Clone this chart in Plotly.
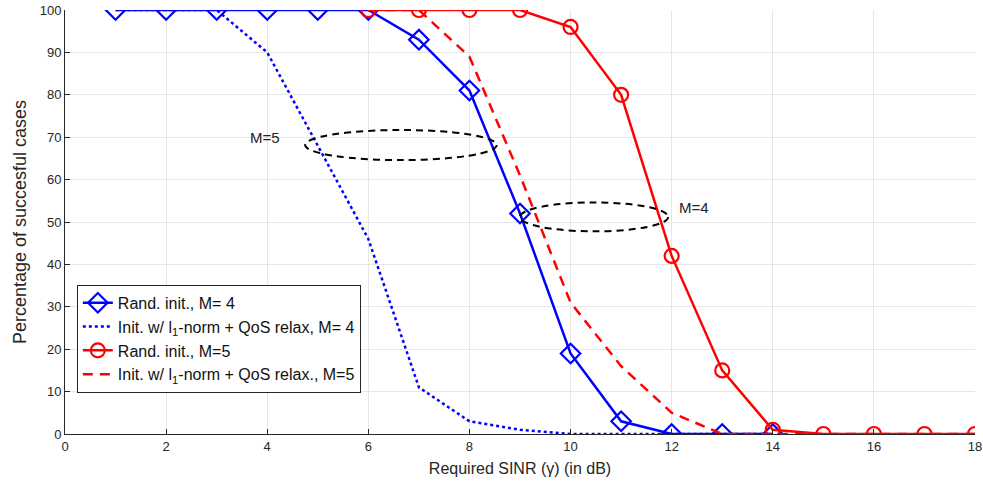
import plotly.graph_objects as go

# Data
x_rand4 = [1, 2, 3, 4, 5, 6, 7, 8, 9, 10, 11, 12, 13, 14]
y_rand4 = [100, 100, 100, 100, 100, 100, 93, 81, 52, 19, 3, 0, 0, 0]

x_init4 = [1, 2, 3, 4, 5, 6, 7, 8, 9, 10, 11, 12, 13, 14]
y_init4 = [100, 100, 100, 90, 68, 46, 11, 3, 1, 0, 0, 0, 0, 0]

x_rand5 = [6, 7, 8, 9, 10, 11, 12, 13, 14, 15, 16, 17, 18]
y_rand5 = [100, 100, 100, 100, 96, 80, 42, 15, 1, 0, 0, 0, 0]

x_init5 = [6, 7, 8, 9, 10, 11, 12, 13, 14, 15, 16, 17, 18]
y_init5 = [100, 100, 89, 61, 31, 16, 5, 0, 0, 0, 0, 0, 0]

x_ticks = [0, 2, 4, 6, 8, 10, 12, 14, 16, 18]
y_ticks = [0, 10, 20, 30, 40, 50, 60, 70, 80, 90, 100]

# ellipse annotations (x0, x1, y0, y1) and labels
ellipse_m5 = [4.75, 8.54, 64.6, 71.7]
ellipse_m4 = [9.0, 11.93, 47.8, 54.6]
label_m5 = (4.3, 70.0, "M=5")
label_m4 = (12.1, 53.5, "M=4")

FONT = "Liberation Sans, Arial, Helvetica, sans-serif"

fig = go.Figure()
fig.add_trace(go.Scatter(
    x=x_rand4, y=y_rand4, mode="lines+markers", name="Rand. init., M= 4",
    line=dict(color="#0000ff", width=2.5),
    marker=dict(symbol="diamond-open", size=15, color="#0000ff", line=dict(width=2.2)),
))
fig.add_trace(go.Scatter(
    x=x_init4, y=y_init4, mode="lines", name="Init. w/ l<sub>1</sub>-norm + QoS relax, M= 4",
    line=dict(color="#0000ff", width=2.5, dash="dot"),
))
fig.add_trace(go.Scatter(
    x=x_rand5, y=y_rand5, mode="lines+markers", name="Rand. init., M=5",
    line=dict(color="#ff0000", width=2.5),
    marker=dict(symbol="circle-open", size=14, color="#ff0000", line=dict(width=2.2)),
))
fig.add_trace(go.Scatter(
    x=x_init5, y=y_init5, mode="lines", name="Init. w/ l<sub>1</sub>-norm + QoS relax., M=5",
    line=dict(color="#ff0000", width=2.5, dash="10px,7px"),
))

for e in (ellipse_m5, ellipse_m4):
    fig.add_shape(type="circle", xref="x", yref="y", x0=e[0], x1=e[1], y0=e[2], y1=e[3],
                  line=dict(color="black", width=2, dash="7px,5px"))

fig.add_annotation(x=label_m5[0], y=label_m5[1], text=label_m5[2], showarrow=False,
                   xanchor="right", yanchor="middle", font=dict(size=15, color="#222"))
fig.add_annotation(x=label_m4[0], y=label_m4[1], text=label_m4[2], showarrow=False,
                   xanchor="left", yanchor="middle", font=dict(size=15, color="#222"))

fig.update_layout(
    width=983, height=486,
    margin=dict(l=65, r=8, t=10, b=52),
    paper_bgcolor="white", plot_bgcolor="white",
    font=dict(family=FONT, color="#262626"),
    showlegend=True,
    legend=dict(x=0.013, y=0.097, xanchor="left", yanchor="bottom",
                bgcolor="white", bordercolor="#262626", borderwidth=1,
                font=dict(size=16, color="#111"), tracegroupgap=0, itemwidth=30),
    xaxis=dict(range=[0, 18], tickvals=x_ticks, ticks="inside", ticklen=5,
               tickcolor="#262626", showline=True, linecolor="#262626", linewidth=1,
               showgrid=True, gridcolor="#e6e6e6", gridwidth=1, zeroline=False,
               automargin=False,
               tickfont=dict(size=13, color="#262626"),
               title=dict(text="Required SINR (\u03b3) (in dB)", font=dict(size=16, color="#262626"), standoff=10)),
    yaxis=dict(range=[0, 100], tickvals=y_ticks, ticks="inside", ticklen=5,
               tickcolor="#262626", showline=True, linecolor="#262626", linewidth=1,
               showgrid=True, gridcolor="#e6e6e6", gridwidth=1, zeroline=False,
               automargin=False,
               tickfont=dict(size=13, color="#262626"),
               title=dict(text="Percentage of succesful cases", font=dict(size=18, color="#262626"), standoff=8)),
)

fig.write_html("out.html")
